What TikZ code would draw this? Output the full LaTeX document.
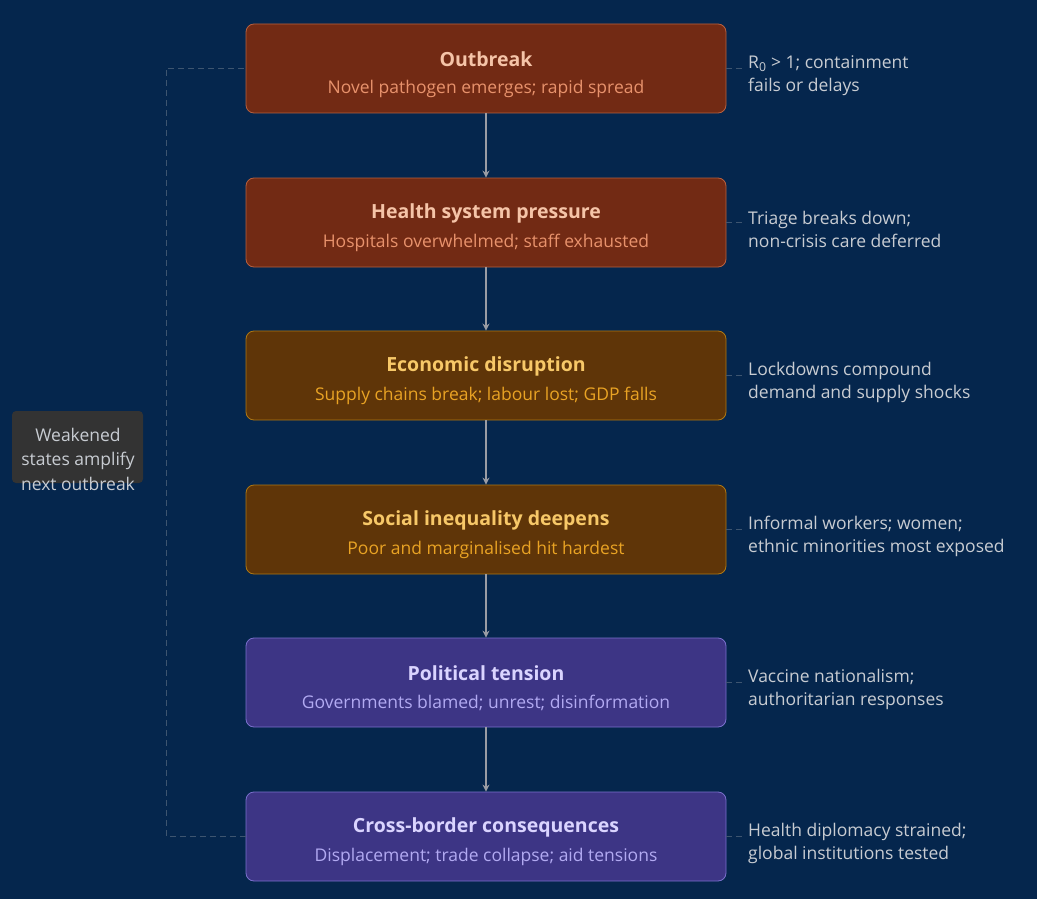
\documentclass[tikz,border=0pt]{standalone}
\usepackage{fontspec}
\setmainfont{Open Sans}
\usetikzlibrary{arrows.meta}
\definecolor{bg}{HTML}{05264D}
\definecolor{rf}{HTML}{722A14}\definecolor{rd}{HTML}{B8603E}\definecolor{rt}{HTML}{F5C4A8}\definecolor{rs}{HTML}{E8926C}
\definecolor{of}{HTML}{5F3508}\definecolor{od}{HTML}{B07812}\definecolor{ot}{HTML}{F7C868}\definecolor{os}{HTML}{E9A324}
\definecolor{pf}{HTML}{3D3585}\definecolor{pd}{HTML}{7A70CC}\definecolor{pt}{HTML}{DAD4FF}\definecolor{ps}{HTML}{B2AAF2}
\definecolor{ln}{HTML}{9A9CA4}\definecolor{dl}{HTML}{3E5570}\definecolor{nt}{HTML}{C8CCD2}
\tikzset{
 box/.style={draw=#1d,fill=#1f,rounded corners=8pt,minimum width=480pt,minimum height=89pt,line width=0.8pt},
 ttl/.style={font=\fontsize{19.5}{22}\selectfont\bfseries},
 sub/.style={font=\fontsize{17.5}{21}\selectfont},
 note/.style={anchor=west,align=left,text=nt,font=\fontsize{17.5}{23}\selectfont,inner sep=0pt},
 arr/.style={draw=ln,line width=1.2pt,-{Stealth[length=7pt,width=7pt]}},
 dsh/.style={draw=dl,line width=1pt,dash pattern=on 6pt off 4pt}
}
\begin{document}
\begin{tikzpicture}[x=1pt,y=-1pt]
\fill[bg] (0,0) rectangle (1037,899);
\useasboundingbox (0,0) rectangle (1037,899);
\def\mk#1#2#3#4#5{%
 \node[box=#3] (#1) at (486,#2) {};
 \node[ttl,text=#3t] (#1t) at (486,#2-9) {#4};
 \node[sub,text=#3s] (#1s) at (486,#2+20) {#5};}
\mk{b1}{68.5}{r}{Outbreak}{Novel pathogen emerges; rapid spread}
\mk{b2}{222.5}{r}{Health system pressure}{Hospitals overwhelmed; staff exhausted}
\mk{b3}{375.5}{o}{Economic disruption}{Supply chains break; labour lost; GDP falls}
\mk{b4}{529.5}{o}{Social inequality deepens}{Poor and marginalised hit hardest}
\mk{b5}{682.5}{p}{Political tension}{Governments blamed; unrest; disinformation}
\mk{b6}{836.5}{p}{Cross-border consequences}{Displacement; trade collapse; aid tensions}
\foreach \a/\b in {b1/b2,b2/b3,b3/b4,b4/b5,b5/b6} \draw[arr] (\a.south) -- (\b.north);
\foreach \b/\y/\t in {b1/68.5/{R\textsubscript{0} > 1; containment\\fails or delays},
 b2/222.5/{Triage breaks down;\\non-crisis care deferred},
 b3/375.5/{Lockdowns compound\\demand and supply shocks},
 b4/529.5/{Informal workers; women;\\ethnic minorities most exposed},
 b5/682.5/{Vaccine nationalism;\\authoritarian responses},
 b6/836.5/{Health diplomacy strained;\\global institutions tested}}{
 \node[note] (n\b) at (748,\y+7) {\t};
 \coordinate (c\b) at (745,\y);
 \draw[dsh] (\b.east) -- (c\b);}
\coordinate (lb) at (166,836.5);
\coordinate (lt) at (166,68.5);
\draw[dsh] (b6.west) -- (lb) -- (lt) -- (b1.west);
\fill[fill=black!80!white,rounded corners=4pt] (12,411) rectangle (143,483);
\node[align=center,text=nt,font=\fontsize{17.5}{24.5}\selectfont] (w) at (78,459) {Weakened\\states amplify\\next outbreak};
\end{tikzpicture}
\end{document}
